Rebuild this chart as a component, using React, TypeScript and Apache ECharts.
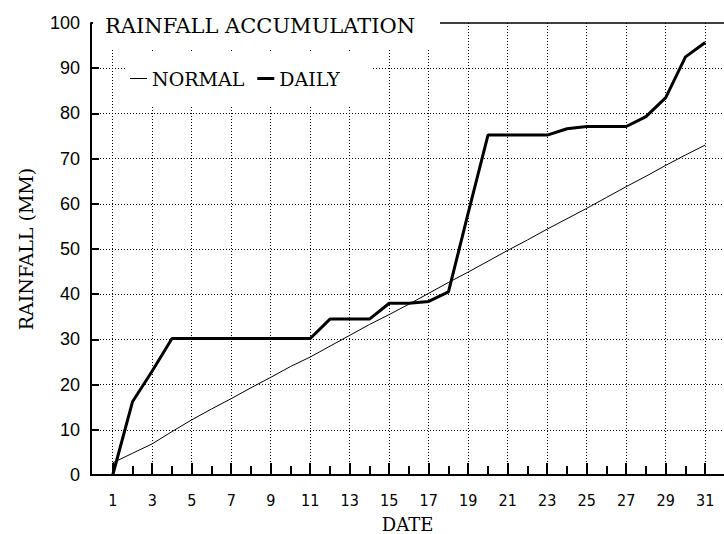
import { useEffect, useRef } from "react";
import * as echarts from "echarts";

const DAYS = [1, 2, 3, 4, 5, 6, 7, 8, 9, 10, 11, 12, 13, 14, 15, 16, 17, 18, 19, 20, 21, 22, 23, 24, 25, 26, 27, 28, 29, 30, 31];
const ODD_DAYS = [1, 3, 5, 7, 9, 11, 13, 15, 17, 19, 21, 23, 25, 27, 29, 31];
const NORMAL = [2.7, 4.8, 6.9, 9.6, 12.2, 14.6, 16.9, 19.3, 21.6, 24.0, 26.1, 28.5, 30.9, 33.3, 35.5, 37.8, 40.2, 42.6, 44.9, 47.3, 49.7, 52.0, 54.4, 56.7, 59.0, 61.4, 63.8, 66.1, 68.5, 70.8, 73.0];
const DAILY = [0, 16.2, 23.0, 30.2, 30.2, 30.2, 30.2, 30.2, 30.2, 30.2, 30.2, 34.5, 34.5, 34.5, 38.0, 38.0, 38.4, 40.5, 58.0, 75.2, 75.2, 75.2, 75.2, 76.6, 77.1, 77.1, 77.1, 79.3, 83.5, 92.5, 95.7];
const TITLE = "RAINFALL ACCUMULATION";
const X_NAME = "DATE";
const Y_NAME = "RAINFALL (MM)";
const SERIES_NAMES = ["NORMAL", "DAILY"];

const SERIF = '"DejaVu Serif", serif';
const dotted = { color: "#000", width: 1, type: [1, 2] as any };

export default function App() {
  const ref = useRef<HTMLDivElement>(null);
  useEffect(() => {
    if (!ref.current) return;
    const chart = echarts.init(ref.current, null, { renderer: "svg" });
    const option: any = {
      animation: false,
      backgroundColor: "#fff",
      grid: { left: 91, right: 0, top: 23, bottom: 59, containLabel: false, outerBoundsMode: "none" },
      legend: {
        show: true,
        left: 130,
        top: 69,
        padding: 0,
        itemGap: 13,
        itemWidth: 17,
        itemHeight: 17,
        z: 10,
        selectedMode: false,
        textStyle: { color: "#000", fontFamily: SERIF, fontSize: 19 },
        data: [
          { name: SERIES_NAMES[0], icon: "path://M0,0L17,0L17,1L0,1Z", itemStyle: { color: "#000", borderWidth: 0 } },
          { name: SERIES_NAMES[1], icon: "path://M0,0L17,0L17,3L0,3Z", itemStyle: { color: "#000", borderWidth: 0 } },
        ],
      },
      xAxis: [
        {
          type: "value",
          min: -0.1,
          max: 31.95,
          position: "bottom",
          axisLine: { show: true, onZero: false, lineStyle: { color: "#000", width: 2 } },
          axisTick: { show: true, inside: true, length: 12, customValues: ODD_DAYS, lineStyle: { color: "#000", width: 2 } },
          axisLabel: {
            show: true,
            customValues: ODD_DAYS,
            margin: 17,
            color: "#000",
            fontFamily: '"Liberation Sans Narrow", "DejaVu Sans Condensed", "Liberation Sans", sans-serif',
            fontSize: 16,
            hideOverlap: false,
          },
          splitLine: { show: true, lineStyle: dotted },
          name: X_NAME,
          nameLocation: "middle",
          nameGap: 40,
          nameMoveOverlap: false,
          nameTextStyle: { color: "#000", fontFamily: SERIF, fontSize: 18, lineHeight: 18 },
        },
        {
          type: "value",
          min: -0.1,
          max: 31.95,
          position: "bottom",
          axisLine: { show: false, onZero: false },
          axisTick: { show: true, inside: true, length: 9, customValues: DAYS, lineStyle: { color: "#000", width: 2 } },
          axisLabel: { show: false },
          splitLine: { show: false },
        },
      ],
      yAxis: {
        type: "value",
        min: 0,
        max: 100,
        interval: 10,
        axisLine: { show: true, onZero: false, lineStyle: { color: "#000", width: 2 } },
        axisTick: { show: true, inside: true, length: 8, lineStyle: { color: "#000", width: 2 } },
        axisLabel: { margin: 11, color: "#000", fontFamily: '"Liberation Sans", Arial, sans-serif', fontSize: 18 },
        splitLine: { show: true, showMinLine: false, showMaxLine: false, lineStyle: dotted },
        name: Y_NAME,
        nameLocation: "middle",
        nameRotate: 90,
        nameGap: 56,
        nameMoveOverlap: false,
        nameTextStyle: { color: "#000", fontFamily: SERIF, fontSize: 19 },
      },
      series: [
        {
          name: SERIES_NAMES[0],
          type: "line",
          xAxisIndex: 0,
          data: DAYS.map((d, i) => [d, NORMAL[i]]),
          symbol: "none",
          lineStyle: { color: "#000", width: 1 },
          itemStyle: { color: "#000" },
          z: 5,
        },
        {
          name: SERIES_NAMES[1],
          type: "line",
          xAxisIndex: 0,
          data: DAYS.map((d, i) => [d, DAILY[i]]),
          symbol: "none",
          lineStyle: { color: "#000", width: 3 },
          itemStyle: { color: "#000" },
          z: 6,
        },
      ],
      graphic: [
        { type: "rect", shape: { x: 93, y: 0, width: 347, height: 49 }, style: { fill: "#fff" }, z: 1 },
        { type: "rect", shape: { x: 127, y: 52, width: 245, height: 54 }, style: { fill: "#fff" }, z: 1 },
        { type: "line", shape: { x1: 440, y1: 23, x2: 724, y2: 23 }, style: { stroke: "#000", lineWidth: 1.5 }, z: 3 },
        {
          type: "text",
          x: 105,
          y: 26,
          z: 3,
          style: { text: TITLE, fill: "#000", font: '21px "DejaVu Serif"', textVerticalAlign: "middle", verticalAlign: "middle" },
        },
      ],
    };
    chart.setOption(option);
    return () => chart.dispose();
  }, []);
  return <div ref={ref} style={{ position: "fixed", left: 0, top: 0, width: 724, height: 534 }} />;
}
